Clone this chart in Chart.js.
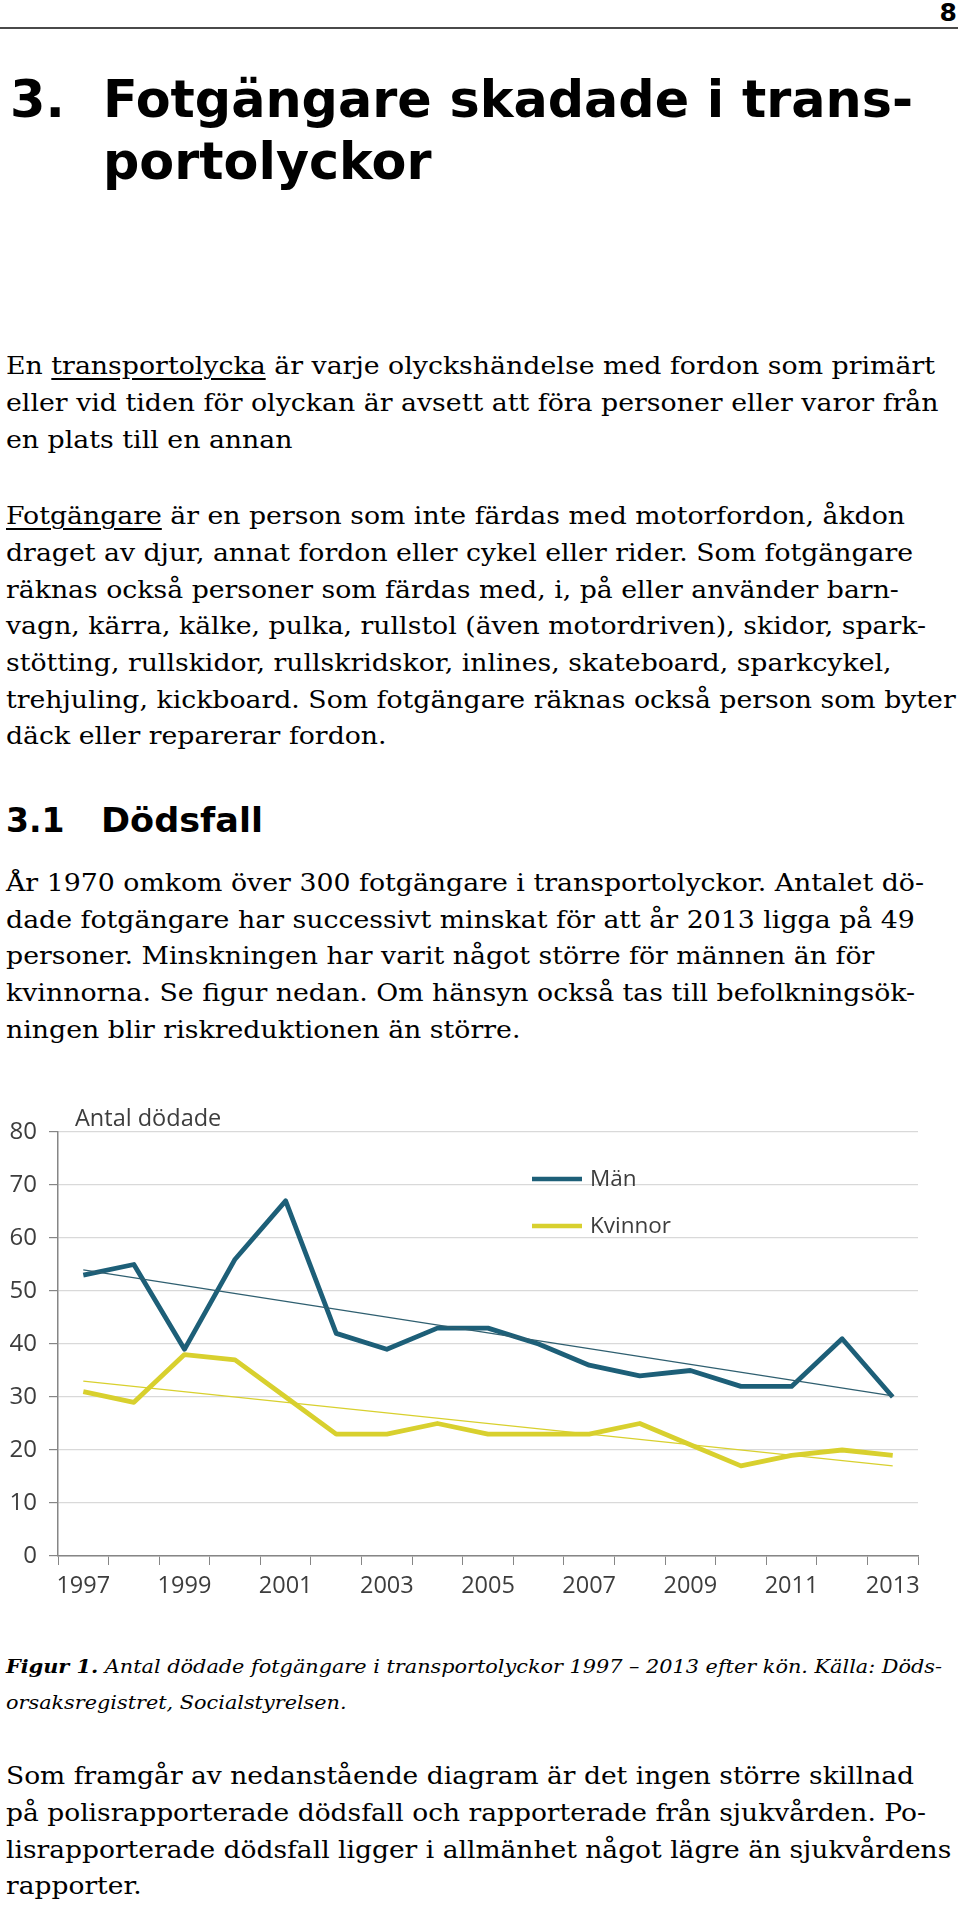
<!DOCTYPE html>
<html lang="sv">
<head>
<meta charset="utf-8">
<title>Fotgängare skadade i transportolyckor</title>
<script src="https://cdn.jsdelivr.net/npm/chart.js@4.4.1/dist/chart.umd.min.js"></script>
<style>
    html, body {
        margin: 0;
        padding: 0;
        background: #fff;
    }
    #page {
        position: relative;
        width: 960px;
        height: 1905px;
        overflow: hidden;
        color: #000;
    }
    .blk {
        position: absolute;
        transform-origin: 0 0;
    }
    .ln {
        white-space: nowrap;
        width: max-content;
    }
    .sans {
        font-family: "DejaVu Sans", Verdana, sans-serif;
        font-weight: bold;
    }
    .serif {
        font-family: "DejaVu Serif", Georgia, serif;
        font-size: 24.5px;
        line-height: 36.7px;
    }
    .serif u {
        text-decoration-thickness: 1.5px;
        text-underline-offset: 4px;
    }
    .caption {
        font-family: "DejaVu Serif", Georgia, serif;
        font-style: italic;
        font-size: 18.5px;
        line-height: 36.7px;
    }
    #rule {
        position: absolute;
        left: 0;
        top: 27px;
        width: 958px;
        height: 2px;
        background: #4a4a4a;
    }
    #chart-wrap {
        position: absolute;
        left: 0;
        top: 1090px;
        width: 960px;
        height: 530px;
    }
</style>
</head>
<body>
<div id="page">
    <div class="blk sans" style="right:3px; top:-0.5px; font-size:25px; line-height:25px;">8</div>
    <div id="rule"></div>

    <div class="blk sans" style="left:10px; top:69.4px; font-size:51px; line-height:62px;">3.</div>
    <div class="blk sans" data-fit="810" style="left:103px; top:69.4px; font-size:51px; line-height:62px;">
        <div class="ln">Fotgängare skadade i trans-</div>
        <div class="ln">portolyckor</div>
    </div>

    <div class="blk serif" data-fit="929" style="left:6px; top:348.2px;">
        <div class="ln">En <u>transportolycka</u> är varje olyckshändelse med fordon som primärt</div>
        <div class="ln">eller vid tiden för olyckan är avsett att föra personer eller varor från</div>
        <div class="ln">en plats till en annan</div>
    </div>

    <div class="blk serif" data-fit="899" style="left:6px; top:498.2px;">
        <div class="ln"><u>Fotgängare</u> är en person som inte färdas med motorfordon, åkdon</div>
        <div class="ln">draget av djur, annat fordon eller cykel eller rider. Som fotgängare</div>
        <div class="ln">räknas också personer som färdas med, i, på eller använder barn-</div>
        <div class="ln">vagn, kärra, kälke, pulka, rullstol (även motordriven), skidor, spark-</div>
        <div class="ln">stötting, rullskidor, rullskridskor, inlines, skateboard, sparkcykel,</div>
        <div class="ln">trehjuling, kickboard. Som fotgängare räknas också person som byter</div>
        <div class="ln">däck eller reparerar fordon.</div>
    </div>

    <div class="blk sans" style="left:6px; top:800.6px; font-size:33px; line-height:40px;">3.1</div>
    <div class="blk sans" data-fit="162" style="left:101px; top:800.6px; font-size:33px; line-height:40px;">
        <div class="ln">Dödsfall</div>
    </div>

    <div class="blk serif" data-fit="918" style="left:6px; top:864.9px;">
        <div class="ln">År 1970 omkom över 300 fotgängare i transportolyckor. Antalet dö-</div>
        <div class="ln">dade fotgängare har successivt minskat för att år 2013 ligga på 49</div>
        <div class="ln">personer. Minskningen har varit något större för männen än för</div>
        <div class="ln">kvinnorna. Se figur nedan. Om hänsyn också tas till befolkningsök-</div>
        <div class="ln">ningen blir riskreduktionen än större.</div>
    </div>

    <div id="chart-wrap">
        <canvas id="chart-deaths" width="960" height="530"></canvas>
    </div>

    <div class="blk caption" data-fit="936" style="left:6px; top:1648.5px;">
        <div class="ln"><b>Figur 1.</b> Antal dödade fotgängare i transportolyckor 1997 – 2013 efter kön. Källa: Döds-</div>
        <div class="ln">orsaksregistret, Socialstyrelsen.</div>
    </div>

    <div class="blk serif" data-fit="908" style="left:6px; top:1758.2px;">
        <div class="ln">Som framgår av nedanstående diagram är det ingen större skillnad</div>
        <div class="ln">på polisrapporterade dödsfall och rapporterade från sjukvården. Po-</div>
        <div class="ln">lisrapporterade dödsfall ligger i allmänhet något lägre än sjukvårdens</div>
        <div class="ln">rapporter.</div>
    </div>
</div>

<script>
    // Antal dödade fotgängare per år och kön
    const years = ['1997', '1998', '1999', '2000', '2001', '2002', '2003', '2004', '2005',
        '2006', '2007', '2008', '2009', '2010', '2011', '2012', '2013'];
    const yearLabels = ['1997', '', '1999', '', '2001', '', '2003', '', '2005',
        '', '2007', '', '2009', '', '2011', '', '2013'];
    const men = [53, 55, 39, 56, 67, 42, 39, 43, 43, 40, 36, 34, 35, 32, 32, 41, 30];
    const women = [31, 29, 38, 37, 30, 23, 23, 25, 23, 23, 23, 25, 21, 17, 19, 20, 19];

    // Trendlinjernas ändpunkter, 1997 och 2013
    const menTrend = [54, 30.2];
    const womenTrend = [33, 17];

    const yTicks = [0, 10, 20, 30, 40, 50, 60, 70, 80];

    const MEN_COLOR = '#1d5f78';
    const WOMEN_COLOR = '#d8d02e';
    const TEXT_COLOR = '#3d3d3d';
    const AXIS_COLOR = '#868686';

    function fitBlocks() {
        // Stretch each text block so its first line matches the width in the original page
        document.querySelectorAll('[data-fit]').forEach(block => {
            const first = block.querySelector('.ln');
            const width = first.getBoundingClientRect().width;
            block.style.transform = `scaleX(${block.dataset.fit / width})`;
        });
    }

    function trendPoints(ends) {
        return [
            { x: years[0], y: ends[0] },
            { x: years[years.length - 1], y: ends[1] }
        ];
    }

    // "Antal dödade" and the legend sit inside the plot, so they are drawn here
    const chartNotes = {
        id: 'chartNotes',
        afterDraw(chart) {
            const { ctx, chartArea: area } = chart;
            ctx.save();
            ctx.fillStyle = TEXT_COLOR;
            ctx.font = '23.5px "Open Sans"';
            ctx.textBaseline = 'alphabetic';
            ctx.textAlign = 'left';
            ctx.fillText('Antal dödade', area.left + 17, area.top - 6);

            ctx.font = '22.5px "Open Sans"';
            ctx.textBaseline = 'middle';
            ctx.lineWidth = 4.5;
            ctx.lineCap = 'butt';
            chart.data.datasets
                .filter(ds => !ds.trend)
                .forEach((ds, i) => {
                    const x = area.left + 474;
                    const y = area.top + 47 + i * 47;
                    ctx.strokeStyle = ds.borderColor;
                    ctx.beginPath();
                    ctx.moveTo(x, y);
                    ctx.lineTo(x + 50, y);
                    ctx.stroke();
                    ctx.fillText(ds.label, x + 58, y + 1);
                });
            ctx.restore();
        }
    };

    function drawChart() {
        new Chart(
            document.getElementById('chart-deaths'),
            {
                type: 'line',
                data: {
                    labels: years,
                    datasets: [
                        {
                            label: 'Män',
                            data: men,
                            borderColor: MEN_COLOR,
                            borderWidth: 4.8,
                            pointRadius: 0,
                            borderJoinStyle: 'round',
                            order: 2
                        },
                        {
                            label: 'Kvinnor',
                            data: women,
                            borderColor: WOMEN_COLOR,
                            borderWidth: 4.8,
                            pointRadius: 0,
                            borderJoinStyle: 'round',
                            order: 2
                        },
                        {
                            label: 'Trend män',
                            trend: true,
                            data: trendPoints(menTrend),
                            borderColor: '#2f5f70',
                            borderWidth: 1.3,
                            pointRadius: 0,
                            order: 1
                        },
                        {
                            label: 'Trend kvinnor',
                            trend: true,
                            data: trendPoints(womenTrend),
                            borderColor: WOMEN_COLOR,
                            borderWidth: 1.3,
                            pointRadius: 0,
                            order: 1
                        }
                    ]
                },
                options: {
                    responsive: false,
                    devicePixelRatio: 1,
                    animation: false,
                    layout: {
                        padding: { top: 42, right: 42, left: 0, bottom: 0 }
                    },
                    scales: {
                        x: {
                            type: 'category',
                            offset: true,
                            afterFit: scale => { scale.height = 64; },
                            grid: {
                                drawOnChartArea: false,
                                offset: true,
                                tickLength: 9,
                                tickColor: AXIS_COLOR
                            },
                            border: { color: AXIS_COLOR, width: 1.5 },
                            ticks: {
                                autoSkip: false,
                                maxRotation: 0,
                                padding: 7,
                                color: TEXT_COLOR,
                                font: { family: 'Open Sans', size: 23.5 },
                                callback: (value, index) => yearLabels[index]
                            }
                        },
                        y: {
                            min: yTicks[0],
                            max: yTicks[yTicks.length - 1],
                            afterFit: scale => { scale.width = 58; },
                            afterBuildTicks: scale => {
                                scale.ticks = yTicks.map(v => ({ value: v }));
                            },
                            grid: {
                                color: '#d9d9d9',
                                lineWidth: 1.2,
                                tickLength: 9,
                                tickColor: AXIS_COLOR
                            },
                            border: { color: AXIS_COLOR, width: 1.5 },
                            ticks: {
                                padding: 12,
                                color: TEXT_COLOR,
                                font: { family: 'Open Sans', size: 24 }
                            }
                        }
                    },
                    plugins: {
                        legend: { display: false },
                        tooltip: { enabled: false }
                    }
                },
                plugins: [chartNotes]
            }
        );
    }

    document.fonts.load('23px "Open Sans"').finally(() => {
        fitBlocks();
        drawChart();
    });
</script>
</body>
</html>
